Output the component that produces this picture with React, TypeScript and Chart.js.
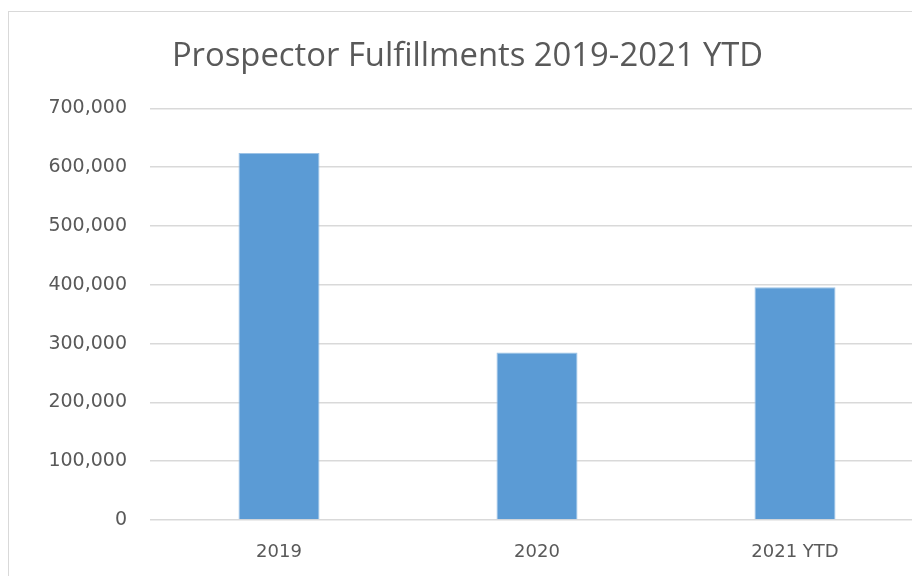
import React, { useEffect, useRef } from "react";
import { Chart, registerables } from "chart.js";

Chart.register(...registerables);

const categories = ["2019", "2020", "2021 YTD"];
const fulfillments = [624000, 285000, 396000];
const yMin = 0;
const yMax = 700000;
const yStep = 100000;
const titleText = "Prospector Fulfillments 2019-2021 YTD";

const TITLE_FONT = "'Open Sans', sans-serif";
const TICK_FONT = "'DejaVu Sans', sans-serif";
const TEXT = "#595959";

export default function App() {
  const ref = useRef<HTMLCanvasElement | null>(null);

  useEffect(() => {
    if (!ref.current) return;
    const chart = new Chart(ref.current, {
      type: "bar",
      data: {
        labels: categories,
        datasets: [
          {
            label: "Fulfillments",
            data: fulfillments,
            backgroundColor: "#5B9BD5",
            borderColor: "#9DC3E6",
            borderWidth: 1,
            barPercentage: 0.314,
            categoryPercentage: 1,
          },
        ],
      },
      options: {
        animation: false,
        responsive: false,
        maintainAspectRatio: false,
        layout: { padding: { left: 11, right: 16, top: 0, bottom: 0 } },
        plugins: {
          legend: { display: false },
          tooltip: { enabled: false },
          title: {
            display: true,
            text: titleText,
            color: TEXT,
            font: { family: TITLE_FONT, size: 32.8, weight: "normal" },
            padding: { top: 37, bottom: 32 },
          },
        },
        scales: {
          x: {
            grid: { display: false, drawTicks: false },
            border: { display: false },
            afterFit: (scale: any) => {
              scale.height = 56;
            },
            ticks: {
              color: TEXT,
              font: { family: TICK_FONT, size: 18 },
              padding: 22,
              maxRotation: 0,
            },
          },
          y: {
            min: yMin,
            max: yMax,
            afterFit: (scale: any) => {
              scale.width = 139;
            },
            grid: { color: "#D9D9D9", lineWidth: 1.5, drawTicks: false },
            border: { display: false },
            ticks: {
              stepSize: yStep,
              color: TEXT,
              font: { family: TICK_FONT, size: 19 },
              padding: 23,
              callback: (v: any) => Number(v).toLocaleString("en-US"),
            },
          },
        },
      },
    });
    return () => chart.destroy();
  }, []);

  return (
    <div
      style={{
        position: "absolute",
        left: 0,
        top: 0,
        width: 912,
        height: 576,
        overflow: "hidden",
        background: "#fff",
      }}
    >
      <div
        style={{
          position: "absolute",
          left: 8,
          top: 11,
          width: 1000,
          height: 1000,
          border: "1px solid #D9D9D9",
        }}
      />
      <canvas
        ref={ref}
        width={940}
        height={576}
        style={{ position: "absolute", left: 0, top: 0, width: 940, height: 576 }}
      />
    </div>
  );
}
